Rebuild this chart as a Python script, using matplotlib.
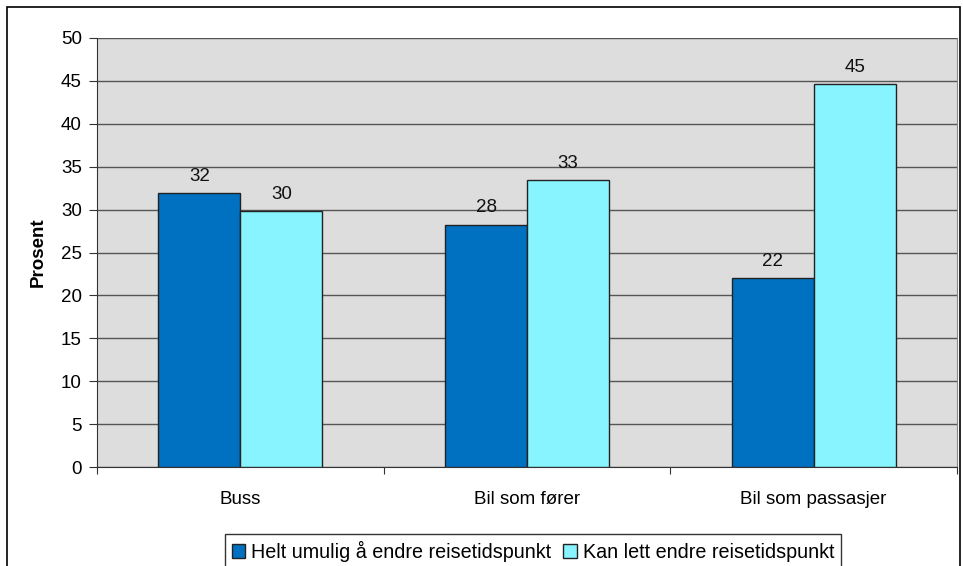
import numpy as np
import matplotlib.pyplot as plt
from matplotlib.patches import Rectangle

plt.rcParams['font.family'] = ['Liberation Sans', 'DejaVu Sans']

categories = ["Buss", "Bil som fører", "Bil som passasjer"]
series_names = ["Helt umulig å endre reisetidspunkt", "Kan lett endre reisetidspunkt"]
helt_umulig = [31.9, 28.2, 22.0]
kan_lett = [29.8, 33.4, 44.6]
labels_umulig = ["32", "28", "22"]
labels_lett = ["30", "33", "45"]

DARK = '#0070C0'
LIGHT = '#88F4FF'
FS = 13.5

fig = plt.figure(figsize=(9.63, 5.66), dpi=100)
ax = fig.add_axes([97 / 963, 1 - 467 / 566, (957 - 97) / 963, (467 - 38) / 566])
ax.set_facecolor('#DDDDDD')

x = np.arange(len(categories))
w = 1 / 3.5
b1 = ax.bar(x - w / 2, helt_umulig, w, color=DARK, edgecolor='#222222', linewidth=1, label=series_names[0], zorder=3)
b2 = ax.bar(x + w / 2, kan_lett, w, color=LIGHT, edgecolor='#222222', linewidth=1, label=series_names[1], zorder=3)

for bars, labs in ((b1, labels_umulig), (b2, labels_lett)):
    for bar, lab in zip(bars, labs):
        ax.text(bar.get_x() + bar.get_width() / 2, bar.get_height() + 1.0, lab,
                ha='center', va='bottom', fontsize=FS, color='#111111')

ax.set_xlim(-0.5, 2.5)
ax.set_ylim(0, 50)
ax.set_yticks(np.arange(0, 51, 5))
ax.yaxis.grid(True, color='#555555', linewidth=1, zorder=0)
ax.set_axisbelow(True)

# category ticks at boundaries, labels centered
ax.set_xticks([-0.5, 0.5, 1.5, 2.5])
ax.set_xticklabels([])
ax.set_xticks(x, minor=True)
ax.set_xticklabels(categories, minor=True, fontsize=FS)
ax.tick_params(axis='x', which='minor', length=0, pad=17)
ax.tick_params(axis='x', which='major', length=5, direction='out', color='#333333')
ax.tick_params(axis='y', length=6, direction='out', labelsize=FS, color='#333333', pad=5)

for side in ['left', 'bottom']:
    ax.spines[side].set_color('#333333')
ax.spines['top'].set_visible(False)
ax.spines['right'].set_color('#888888')

ax.set_ylabel("Prosent", fontsize=FS, fontweight='bold', labelpad=10)

leg = fig.legend(loc='lower center', bbox_to_anchor=(533 / 963, -0.022), ncol=2, frameon=True,
                 fancybox=False, edgecolor='black', fontsize=14.2, handlelength=0.7,
                 handleheight=0.7, handletextpad=0.3, columnspacing=0.6, borderpad=0.35)
leg.get_frame().set_linewidth(1)

fig.patches.append(Rectangle((7 / 963, -0.02), (960 - 7) / 963, 1.02 - 7 / 566,
                             transform=fig.transFigure, fill=False, edgecolor='black', linewidth=1.2))

fig.savefig("out.png", dpi=100)
